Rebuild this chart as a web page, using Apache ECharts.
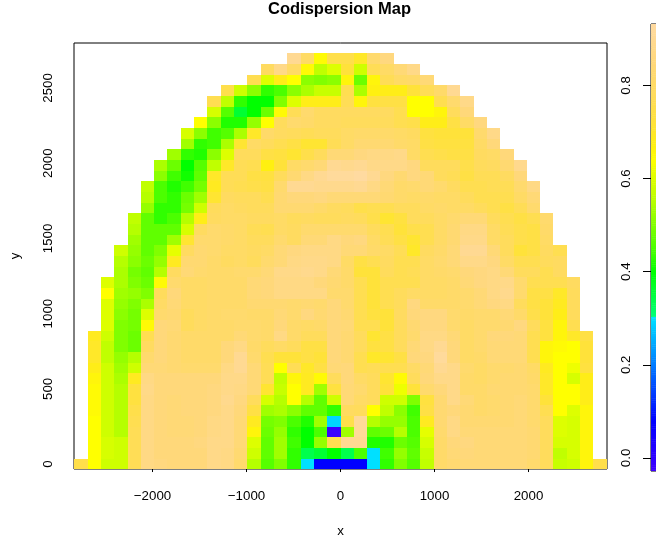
<!DOCTYPE html>
<html><head><meta charset="utf-8">
<style>html,body{margin:0;padding:0;background:#fff;overflow:hidden}#c{width:656px;height:545px}</style>
<script src="https://cdn.jsdelivr.net/npm/echarts@6/dist/echarts.min.js"></script>
</head><body><div id="c"></div>
<script>
const xTicks = [-2000,-1000,0,1000,2000];
const yTicks = [0,500,1000,1500,2000,2500];
const barTicks = [0,0.2,0.4,0.6,0.8];
const chartTitle = 'Codispersion Map';
const xRange = [-2835,2835];
const yRange = [-33,2799];
const barRange = [-0.028,0.932];
const firstX = -2761, stepX = 141.6, stepY = 70.9, topRowY = 2694;
// first occupied column of each row, top row first
const firstCol = [16,14,13,11,10,10,9,8,8,7,6,6,5,5,5,4,4,4,3,3,3,2,2,2,2,2,1,1,1,1,1,1,1,1,1,1,1,1,0];
// codispersion x100, top row first
const row00=[90,80,65,75,75,70,82,86];
const row01=[79,88,80,65,56,60,72,58,77,80,84,88];
const row02=[76,60,68,64,51,50,51,66,48,66,77,80,81,84];
const row03=[75,58,51,43,45,51,54,57,57,76,54,67,68,68,72,77,81,90];
const row04=[76,56,43,40,40,50,60,68,68,68,77,66,73,74,74,64,64,76,82,88];
const row05=[59,46,36,40,48,65,77,82,79,79,79,79,79,79,76,64,64,66,78,85];
const row06=[64,51,42,42,52,64,78,82,81,79,79,78,78,78,78,76,75,68,68,74,80,86];
const row07=[59,51,44,46,54,70,81,79,78,77,78,78,80,81,81,81,80,79,73,72,72,72,82,88];
const row08=[53,43,44,54,71,80,78,76,74,71,71,77,80,83,83,83,81,80,74,73,73,73,80,85];
const row09=[53,43,42,51,60,78,78,74,73,71,75,78,84,84,86,87,87,88,80,76,75,74,74,79,80,85];
const row10=[54,48,40,46,56,70,77,76,67,72,80,82,84,90,89,90,88,88,88,86,78,78,78,75,78,79,83,89];
const row11=[51,44,41,47,70,77,77,74,73,78,83,87,90,92,92,93,90,86,83,86,84,78,77,74,77,77,79,85];
const row12=[56,45,42,44,49,69,77,76,75,74,82,90,90,89,89,89,90,87,84,81,82,84,82,79,76,76,77,77,82,87];
const row13=[55,45,43,48,53,71,79,78,78,76,83,85,85,86,84,84,84,84,83,81,80,81,80,80,78,76,76,76,80,84];
const row14=[52,43,43,49,58,78,80,79,78,78,83,83,83,81,79,78,75,76,76,78,78,80,81,80,80,78,76,74,77,82];
const row15=[56,47,43,45,55,68,79,80,80,79,79,80,78,79,78,78,79,78,75,71,73,78,78,80,82,84,84,78,76,74,76,82];
const row16=[55,47,47,47,59,79,82,81,80,77,76,80,79,82,82,82,82,82,78,76,72,75,76,80,83,87,87,80,77,75,74,81];
const row17=[53,47,47,53,71,82,82,81,80,78,78,82,79,84,84,87,85,86,80,77,74,71,76,80,83,88,88,80,78,75,74,80];
const row18=[58,52,47,50,61,79,83,82,80,80,79,80,84,86,87,87,87,84,84,81,80,77,70,79,81,84,90,90,84,78,72,74,79,76];
const row19=[55,51,48,52,69,83,83,81,79,80,78,82,84,87,88,88,87,80,74,76,79,76,76,80,82,84,88,88,86,80,76,76,78,79];
const row20=[54,49,47,55,79,84,82,81,81,82,82,84,88,88,89,88,84,81,72,72,78,76,77,80,81,82,85,86,87,84,78,78,76,79];
const row21=[60,54,50,48,65,82,80,80,81,81,81,84,85,87,87,87,85,83,81,76,72,76,76,76,80,80,81,84,86,87,88,82,76,76,76,79];
const row22=[64,53,52,50,78,85,80,80,81,81,81,84,85,87,87,87,87,82,82,76,72,76,78,80,80,80,81,82,84,87,89,82,74,74,70,78];
const row23=[60,52,50,54,80,84,80,80,81,81,81,83,83,83,82,83,82,85,82,76,72,76,78,86,81,81,81,82,84,86,87,78,74,72,69,78];
const row24=[60,51,49,60,82,83,78,80,81,82,82,81,81,84,82,86,83,85,83,76,73,72,79,85,86,86,82,81,82,82,84,81,75,72,68,78];
const row25=[60,50,49,65,85,84,78,80,81,81,82,82,81,85,81,80,81,85,84,76,76,72,78,83,86,86,82,80,82,82,83,86,78,73,66,76];
const row26=[69,58,50,48,76,85,83,81,81,81,81,84,82,81,87,81,78,78,85,83,78,71,74,78,82,87,87,84,80,82,85,85,84,76,73,66,70,74];
const row27=[70,56,50,48,79,85,83,81,81,81,85,87,81,78,80,78,74,74,85,83,78,73,74,78,84,87,90,85,80,82,84,84,84,76,66,65,64,72];
const row28=[70,56,52,55,82,85,83,81,81,81,85,90,82,76,72,72,74,72,85,83,76,70,71,74,85,86,92,85,80,81,84,84,84,76,66,64,64,72];
const row29=[68,58,53,58,84,84,83,82,82,82,87,90,84,77,64,77,70,74,84,85,76,77,76,76,80,84,90,88,82,80,82,82,83,80,69,64,62,73];
const row30=[66,58,54,69,87,85,85,85,85,85,88,88,84,77,56,66,69,65,78,85,80,78,71,65,78,85,88,88,81,80,82,83,83,81,70,64,59,68];
const row31=[65,58,55,73,88,85,85,85,85,86,88,87,84,71,57,64,69,53,73,84,82,78,72,62,72,82,85,88,81,81,83,83,83,82,70,64,64,68];
const row32=[65,58,55,73,87,85,84,85,85,86,89,86,78,59,55,64,55,47,58,84,80,78,58,58,50,73,83,88,84,81,82,83,84,82,72,64,64,68];
const row33=[65,58,55,75,87,85,84,85,85,86,88,85,74,53,54,51,47,47,43,79,78,64,56,51,44,74,83,85,83,81,82,83,84,82,76,64,60,66];
const row34=[64,58,55,76,87,85,84,84,85,87,88,84,69,49,50,45,42,53,29,75,91,55,52,52,45,69,83,87,83,83,83,83,84,82,78,60,59,66];
const row35=[64,58,55,77,87,85,84,84,85,87,88,84,66,48,52,43,40,45,-2,53,91,47,48,55,45,61,82,87,84,84,84,84,84,83,78,60,59,66];
const row36=[64,59,58,77,87,85,85,85,86,88,88,84,60,47,53,44,40,52,76,90,90,42,42,48,46,59,81,85,86,84,84,84,84,83,78,59,59,66];
const row37=[64,59,58,77,87,85,85,85,85,88,87,83,58,47,53,43,34,36,40,34,45,30,44,52,47,57,81,84,85,84,84,84,84,83,78,56,59,66];
const row38=[75,64,58,58,77,87,86,85,85,85,88,87,82,55,46,50,43,30,8,8,8,8,30,43,50,46,56,81,83,84,84,84,84,84,82,78,57,58,66,75];
const rows=[row00,row01,row02,row03,row04,row05,row06,row07,row08,row09,row10,row11,row12,row13,row14,row15,row16,row17,row18,row19,row20,row21,row22,row23,row24,row25,row26,row27,row28,row29,row30,row31,row32,row33,row34,row35,row36,row37,row38];

// colour ramp of the colour bar: value, r, g, b
const ramp=[[-0.03,64,0,255],[0.08,0,0,255],[0.305,0,229,255],[0.3051,0,255,120],[0.40,0,255,0],[0.44,64,255,0],[0.50,128,255,0],[0.56,192,255,0],[0.60,221,255,0],[0.64,255,255,0],[0.67,255,240,16],[0.72,255,226,58],[0.78,255,220,92],[0.85,255,216,122],[0.93,255,218,160]];
function colourOf(v){
  if(v<=ramp[0][0])return `rgb(${ramp[0][1]},${ramp[0][2]},${ramp[0][3]})`;
  for(let i=1;i<ramp.length;i++){
    if(v<=ramp[i][0]){
      const a=ramp[i-1],b=ramp[i],t=(v-a[0])/(b[0]-a[0]);
      return `rgb(${Math.round(a[1]+t*(b[1]-a[1]))},${Math.round(a[2]+t*(b[2]-a[2]))},${Math.round(a[3]+t*(b[3]-a[3]))})`;
    }
  }
  const l=ramp[ramp.length-1];return `rgb(${l[1]},${l[2]},${l[3]})`;
}
const cells=[];
rows.forEach((r,ri)=>r.forEach((v,k)=>{cells.push([firstX+stepX*(firstCol[ri]+k),topRowY-stepY*ri,v/100]);}));
const barSteps=[];
for(let i=0;i<240;i++)barSteps.push(barRange[0]+(barRange[1]-barRange[0])*(i+0.5)/240);
const barH=(barRange[1]-barRange[0])/240;
const font='"Liberation Sans", Arial, sans-serif';
const chart=echarts.init(document.getElementById('c'),null,{renderer:'canvas'});
const hard={color:'#000',width:1};
function cellItem(params,api){
  const x=api.value(0),y=api.value(1);
  const a=api.coord([x-stepX/2,y+stepY/2]),b=api.coord([x+stepX/2,y-stepY/2]);
  const l=Math.round(a[0]),t=Math.round(a[1]),r=Math.round(b[0]),bt=Math.round(b[1]);
  return {type:'rect',shape:{x:l,y:t,width:r-l,height:bt-t},style:{fill:colourOf(api.value(2))}};
}
function stripItem(params,api){
  const v=api.value(1);
  const a=api.coord([0,v+barH/2]),b=api.coord([1,v-barH/2]);
  return {type:'rect',shape:{x:a[0],y:a[1],width:b[0]-a[0],height:b[1]-a[1]+0.5},style:{fill:colourOf(v)}};
}
chart.setOption({
  animation:false,backgroundColor:'#fff',
  title:{text:chartTitle,left:263,top:-4,textStyle:{fontFamily:font,fontSize:16.5,fontWeight:'bold',color:'#000'}},
  grid:[
    {left:74,top:43,width:533,height:426,show:true,borderColor:'#000',borderWidth:1,backgroundColor:'#fff',outerBoundsMode:'none',containLabel:false},
    {left:651,top:24,width:30,height:447,show:true,borderColor:'#000',borderWidth:1,outerBoundsMode:'none',containLabel:false}
  ],
  xAxis:[
    {gridIndex:0,type:'value',min:xRange[0],max:xRange[1],splitLine:{show:false},
     name:'x',nameLocation:'middle',nameGap:56,nameTextStyle:{fontFamily:font,fontSize:13.3,color:'#000'},
     axisLine:{show:false},axisTick:{show:true,length:8,lineStyle:hard,customValues:xTicks},
     axisLabel:{fontFamily:font,fontSize:13.3,color:'#000',margin:21,customValues:xTicks,formatter:v=>String(v).replace('-','\u2212')}},
    {gridIndex:1,type:'value',min:0,max:1,show:false}
  ],
  yAxis:[
    {gridIndex:0,type:'value',min:yRange[0],max:yRange[1],splitLine:{show:false},
     name:'y',nameLocation:'middle',nameGap:52,nameRotate:90,nameTextStyle:{fontFamily:font,fontSize:13.3,color:'#000'},
     axisLine:{show:false},axisTick:{show:true,length:8,lineStyle:hard,customValues:yTicks},
     axisLabel:{fontFamily:font,fontSize:13.3,color:'#000',rotate:90,margin:19,customValues:yTicks,formatter:v=>String(v)}},
    {gridIndex:1,type:'value',min:barRange[0],max:barRange[1],splitLine:{show:false},position:'left',
     axisLine:{show:false},axisTick:{show:true,length:8,lineStyle:hard,customValues:barTicks},
     axisLabel:{fontFamily:font,fontSize:13.3,color:'#000',rotate:90,margin:18,customValues:barTicks,formatter:v=>v.toFixed(1)}}
  ],
  series:[
    {type:'custom',xAxisIndex:0,yAxisIndex:0,renderItem:cellItem,data:cells,encode:{x:0,y:1},clip:true,silent:true},
    {type:'custom',xAxisIndex:1,yAxisIndex:1,renderItem:stripItem,data:barSteps.map(v=>[0,v]),encode:{x:0,y:1},clip:true,silent:true}
  ]
});
</script></body></html>
